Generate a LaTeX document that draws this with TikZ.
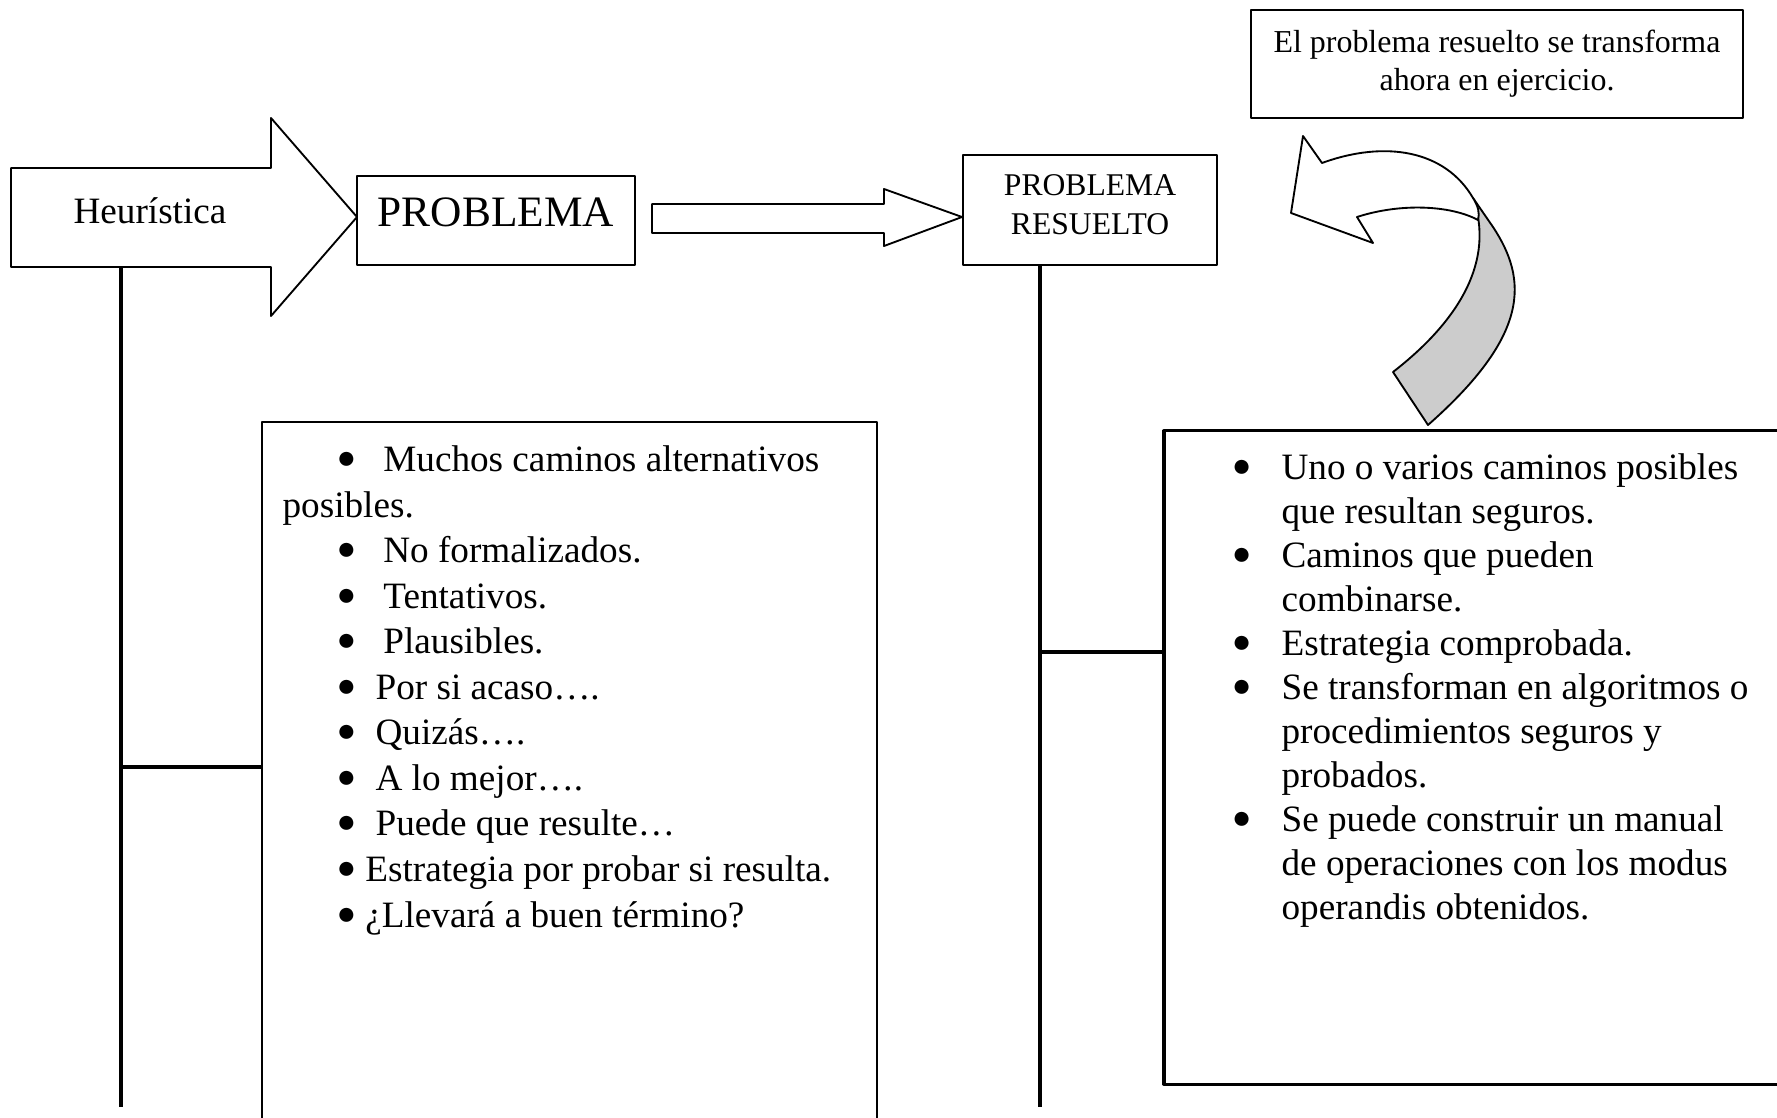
\documentclass[tikz,border=0pt]{standalone}
\usepackage{fontspec}
\setmainfont{Liberation Serif}
\definecolor{cccccc}{rgb}{0.8,0.8,0.8}
\newcommand{\pto}{\makebox[4.2pt]{\raisebox{1pt}{\fontsize{10.5}{10.5}\selectfont ●}}}
\newcommand{\vin}{\llap{\pto\hspace{10.8pt}}}

\begin{document}
\begin{tikzpicture}[line cap=round,line join=round,x=0.3226pt,y=-0.3226pt,
		caja/.style={draw=black,line width=0.6pt,inner sep=0pt},
		bloque/.style={draw=black,fill=white,line width=0.6pt},
		tronco/.style={draw=black,line width=1.1pt,line cap=butt},
		lista/.style={anchor=north west,inner sep=0pt,align=left}]
	\useasboundingbox (0,0) rectangle (1777,1118);
	% flechas de bloque
	\draw[bloque] (11,168) -- (271,168) -- (271,118) -- (357,217) -- (271,316) -- (271,267) -- (11,267) -- cycle;
	\draw[bloque] (652,204) -- (884,204) -- (884,189) -- (962,217) -- (884,246) -- (884,233) -- (652,233) -- cycle;
	\node[anchor=base,font=\fontsize{12}{14}\selectfont] (heur) at (150,223.5) {Heurística};
	\node[caja,minimum width=89.7pt,minimum height=28.7pt,text depth=5.3pt,font=\fontsize{14}{16}\selectfont] (prob) at (496,220.5) {PROBLEMA};
	\node[caja,minimum width=81.9pt,minimum height=35.5pt,align=center,font=\fontsize{10.2}{12.4}\selectfont] (res) at (1090,210) {PROBLEMA\\RESUELTO\rule[-3.6pt]{0pt}{0pt}};
	\node[caja,minimum width=158.7pt,minimum height=34.8pt,align=center,font=\fontsize{10.3}{12.2}\selectfont] (nota) at (1497,64) {El problema resuelto se transforma\\ahora en ejercicio.};
	% flecha curva
	\filldraw[draw=black,fill=cccccc,line width=0.6pt] (1473,198) -- (1493,227) .. controls (1528,280) and (1530,335) .. (1428,425) -- (1393,372) .. controls (1460,320) and (1495,260) .. (1473,198);
	\draw[bloque] (1291,213) -- (1303,136) -- (1322,163) .. controls (1385,140) and (1445,150) .. (1473,198) .. controls (1478,206) and (1480,213) .. (1478,220) .. controls (1450,205) and (1400,203) .. (1357,217) -- (1373,243) -- cycle;
	% cajas de listas
	\node[caja,minimum width=198.4pt,minimum height=228.4pt] (caja1) at (569.5,776) {};
	\node[caja,line width=1pt,minimum width=205.2pt,minimum height=210.7pt] (caja2) at (1482,757.5) {};
	\node[lista,font=\fontsize{12}{14.7}\selectfont] (txt1) at (282,445) {%
		\hspace*{18.5pt}\pto\hspace{9.8pt}Muchos caminos alternativos\\
		posibles.\\
		\hspace*{18.5pt}\pto\hspace{9.8pt}No formalizados.\\
		\hspace*{18.5pt}\pto\hspace{9.8pt}Tentativos.\\
		\hspace*{18.5pt}\pto\hspace{9.8pt}Plausibles.\\
		\hspace*{18.5pt}\pto\hspace{7.3pt}Por si acaso….\\
		\hspace*{18.5pt}\pto\hspace{7.3pt}Quizás….\\
		\hspace*{18.5pt}\pto\hspace{7.3pt}A lo mejor….\\
		\hspace*{18.5pt}\pto\hspace{7.3pt}Puede que resulte…\\
		\hspace*{18.5pt}\pto\hspace{4pt}Estrategia por probar si resulta.\\
		\hspace*{18.5pt}\pto\hspace{4pt}¿Llevará a buen término?};
	\node[lista,font=\fontsize{12}{14.2}\selectfont] (txt2) at (1281,453) {%
		\vin Uno o varios caminos posibles\\
		que resultan seguros.\\
		\vin Caminos que pueden\\
		combinarse.\\
		\vin Estrategia comprobada.\\
		\vin Se transforman en algoritmos o\\
		procedimientos seguros y\\
		probados.\\
		\vin Se puede construir un manual\\
		de operaciones con los modus\\
		operandis obtenidos.};
	% lineas de union
	\coordinate (base1) at (121,267);
	\coordinate (fin1) at (121,1107);
	\coordinate (fin2) at (1040,1107);
	\coordinate (rama1) at (121,767);
	\coordinate (rama2) at (1040,652);
	\draw[tronco] (base1) -- (fin1);
	\draw[tronco] (fin2 |- res.south) -- (fin2);
	\draw[tronco] (rama1) -- (rama1 -| caja1.west);
	\draw[tronco] (rama2) -- (rama2 -| caja2.west);
\end{tikzpicture}
\end{document}
